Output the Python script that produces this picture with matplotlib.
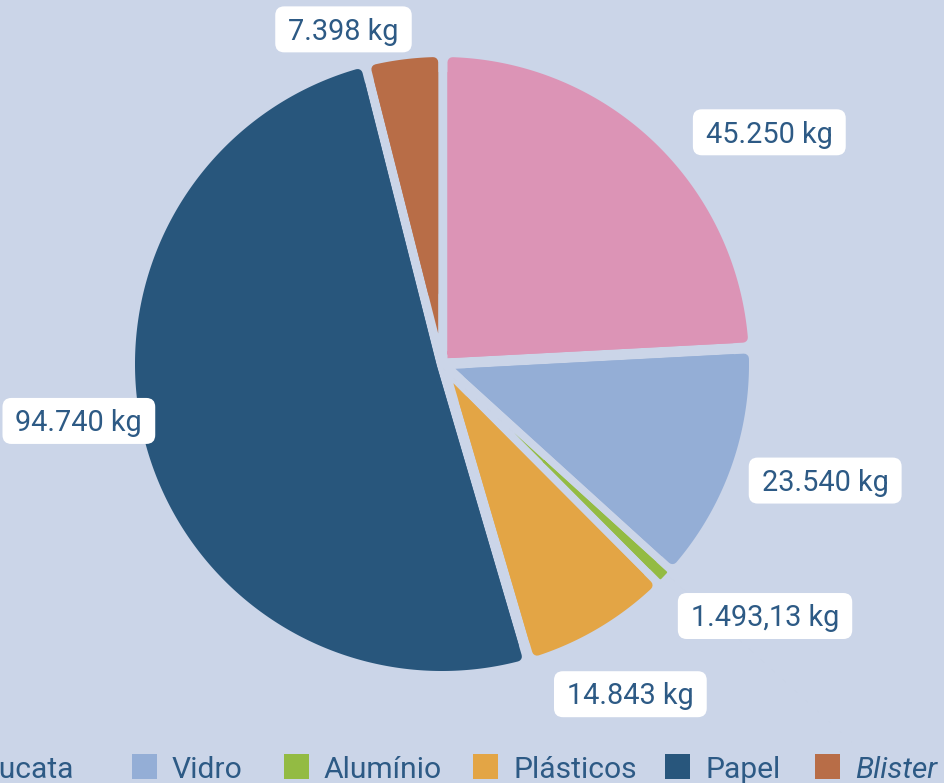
import numpy as np
import matplotlib
matplotlib.use("Agg")
import matplotlib.pyplot as plt
from matplotlib.patches import Polygon, FancyBboxPatch, Rectangle

# Recycled material collected, by type (kg)
categories = ["Sucata", "Vidro", "Alumínio", "Plásticos", "Papel", "Blister"]
values = [45.250, 23.540, 1.49313, 14.843, 94.740, 7.398]
value_labels = ["45.250 kg", "23.540 kg", "1.493,13 kg", "14.843 kg", "94.740 kg", "7.398 kg"]
colors = ["#dc94b6", "#94aed6", "#93bb43", "#e3a545", "#28567c", "#b86d47"]

# label placement: offset (px) from the outer mid point of each slice
label_offsets = [(116, -9), (94, 13.5), (101, 40), (32, 66), (-67, -24), (-60.5, -30)]
# legend swatch left edges (px); the row runs past the left border
legend_x = [-58, 132, 284, 473, 665, 815]

BG = "#cbd5e8"
TEXT = "#2d5a85"
W, H = 944, 783
CX, CY = 442, 364          # pie centre (px)
R_VIS = 307                # visible outer radius (px)
GAP = 5.5                  # half of the gap between slices (px)
CORNER = 5                 # outer corner rounding radius (px)
LABEL_FS = 20.8
LEGEND_FS = 21.6
PX2PT = 72 / 100

plt.rcParams["font.family"] = ["Roboto", "DejaVu Sans"]
fig = plt.figure(figsize=(W / 100, H / 100), dpi=100, facecolor=BG)
ax = fig.add_axes([0, 0, 1, 1])
ax.set_xlim(0, W)
ax.set_ylim(H, 0)
ax.axis("off")


def pt(c_deg, r):
    """Point at clockwise angle c (deg, from 12 o'clock) and radius r."""
    c = np.radians(c_deg)
    return CX + r * np.sin(c), CY - r * np.cos(c)


def inset_sector(start, span, e, r_out):
    """Outline of a sector whose straight edges are pushed inward by e."""
    half = np.radians(span) / 2
    r_min = e / np.sin(half) if half < np.pi / 2 else e
    if r_min >= r_out:
        return None
    rs = r_min + (r_out - r_min) * np.linspace(0, 1, 300) ** 2
    off = np.degrees(np.arcsin(np.clip(e / rs, -1, 1)))
    lo = start + off
    hi = start + span - off
    left = [pt(c, r) for c, r in zip(lo, rs)]
    outer = [pt(c, r_out) for c in np.linspace(lo[-1], hi[-1], 300)]
    right = [pt(c, r) for c, r in zip(hi[::-1], rs[::-1])]
    inner = [pt(c, r_min) for c in np.linspace(hi[0], lo[0], 60)]
    return np.array(left + outer + right + inner)


total = sum(values)
spans = np.array(values) / total * 360.0
starts = np.concatenate([[0.0], np.cumsum(spans)[:-1]])

for start, span, color in zip(starts, spans, colors):
    arc = np.radians(span) * R_VIS
    g = min(GAP, max(arc / 20, 2.5))
    rho = min(CORNER, arc / 15)
    # body with rounded outer corners (shrunk, then stroked with a round join)
    body = inset_sector(start, span, g + rho, R_VIS - rho)
    if body is not None:
        ax.add_patch(Polygon(body, closed=True, facecolor=color, edgecolor=color,
                             linewidth=2 * rho * PX2PT, joinstyle="round", zorder=2))
    # sharp tip towards the centre
    core = inset_sector(start, span, g, R_VIS - 3 * CORNER)
    if core is not None:
        ax.add_patch(Polygon(core, closed=True, facecolor=color, edgecolor="none", zorder=2))

# value labels in white rounded boxes
fig.canvas.draw()
renderer = fig.canvas.get_renderer()
fs_px = LABEL_FS / PX2PT
digit_h = 0.711 * fs_px
for start, span, text, (dx, dy) in zip(starts, spans, value_labels, label_offsets):
    mx, my = pt(start + span / 2, R_VIS)
    cx, cy = mx + dx, my + dy
    t = ax.text(cx, cy + digit_h / 2, text, ha="center", va="baseline",
                fontsize=LABEL_FS, color=TEXT, zorder=6)
    bb = t.get_window_extent(renderer)
    bw, bh, rr = bb.width + 26, 46, 9
    ax.add_patch(FancyBboxPatch((cx - bw / 2 + rr, cy - bh / 2 + rr), bw - 2 * rr, bh - 2 * rr,
                                boxstyle=f"round,pad={rr},rounding_size={rr}",
                                facecolor="white", edgecolor="none", zorder=5))

# legend row along the bottom edge
SW, SW_TOP, TEXT_GAP, BASELINE = 25, 754, 40, 778
for x, name, color in zip(legend_x, categories, colors):
    ax.add_patch(Rectangle((x, SW_TOP), SW, SW, facecolor=color, edgecolor="none",
                           clip_on=False, zorder=3))
    ax.text(x + TEXT_GAP, BASELINE, name, ha="left", va="baseline", fontsize=LEGEND_FS,
            color=TEXT, fontstyle="italic" if name == "Blister" else "normal",
            clip_on=False, zorder=3)

fig.savefig("out.png", dpi=100, facecolor=BG)
